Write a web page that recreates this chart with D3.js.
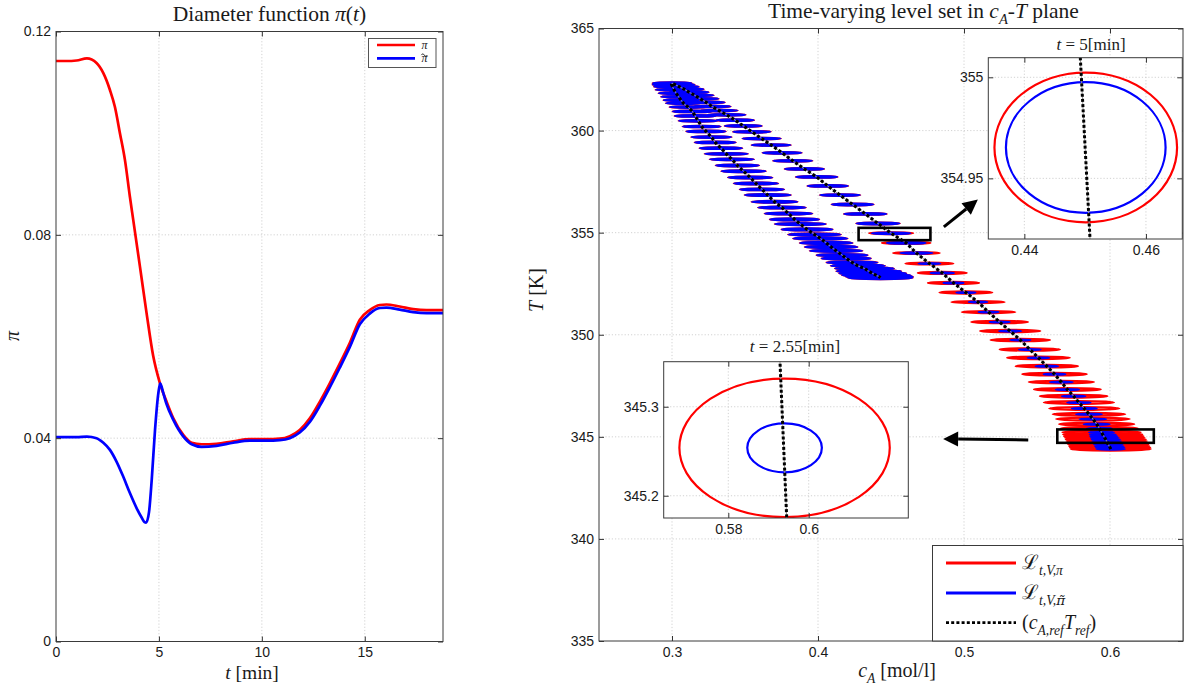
<!DOCTYPE html>
<html>
<head>
<meta charset="utf-8">
<script src="https://cdnjs.cloudflare.com/ajax/libs/d3/7.8.5/d3.min.js"></script>
<style>
  body { margin: 0; background: #fff; }
  svg { display: block; }
  .tick text { font-family: "Liberation Sans", Arial, sans-serif; font-size: 14px; fill: #1a1a1a; }
  .tex { font-family: "Liberation Serif", "Times New Roman", serif; fill: #1a1a1a; }
</style>
</head>
<body>
<svg id="chart" width="1190" height="687"></svg>
<script>
// ---- left panel: diameter functions over time ----
const timeRed = [0, 0.5, 1.0, 1.5, 1.97, 2.3, 2.62, 2.86, 3.11, 3.35, 3.59, 3.75, 4.08, 4.4, 4.72, 5.05, 5.37, 5.7, 6.19, 6.59, 7.07, 7.8, 8.61, 9.42, 10.23, 10.87, 11.36, 11.84, 12.33, 12.82, 13.3, 13.79, 14.27, 14.76, 15.24, 15.73, 16.05, 16.7, 17.35, 18.0, 18.8];
const piRed = [0.1142, 0.1142, 0.1143, 0.1147, 0.1138, 0.1118, 0.1085, 0.1052, 0.0999, 0.0947, 0.0875, 0.0830, 0.0737, 0.0646, 0.0562, 0.0508, 0.0472, 0.0439, 0.0406, 0.0391, 0.0388, 0.0389, 0.0394, 0.0398, 0.0398, 0.0399, 0.0404, 0.0416, 0.0439, 0.0472, 0.0508, 0.0547, 0.0587, 0.0633, 0.0652, 0.0662, 0.0663, 0.0659, 0.0654, 0.0652, 0.0652];
const timeBlue = [0, 1.0, 1.5, 1.97, 2.3, 2.62, 2.94, 3.27, 3.59, 3.92, 4.16, 4.3, 4.38, 4.52, 4.65, 4.81, 4.97, 5.06, 5.21, 5.37, 5.7, 6.19, 6.59, 7.07, 7.8, 8.61, 9.42, 10.23, 10.87, 11.36, 11.84, 12.33, 12.82, 13.3, 13.79, 14.27, 14.76, 15.24, 15.73, 16.05, 16.7, 17.35, 18.0, 18.8];
const piBlue = [0.0402, 0.0402, 0.0403, 0.0400, 0.0391, 0.0377, 0.0354, 0.0324, 0.0292, 0.0262, 0.0244, 0.0235, 0.0234, 0.0255, 0.0318, 0.0416, 0.0488, 0.0508, 0.0489, 0.0467, 0.0436, 0.0403, 0.0388, 0.0383, 0.0385, 0.0391, 0.0395, 0.0395, 0.0396, 0.0400, 0.0411, 0.0432, 0.0464, 0.0500, 0.0539, 0.0579, 0.0624, 0.0645, 0.0656, 0.0657, 0.0653, 0.0648, 0.0646, 0.0646];
const timeTicks = [0, 5, 10, 15];
const piTicks = [0, 0.04, 0.08, 0.12];

// ---- right panel: reference trajectory and level-set widths (c_A extent) ----
const refCA = [0.6005, 0.6001, 0.5995, 0.5988, 0.5982, 0.5977, 0.5971, 0.5964, 0.5957, 0.5950,
  0.5942, 0.5927, 0.5909, 0.5883, 0.5856, 0.5824, 0.5787, 0.5751, 0.5708, 0.5667,
  0.5620, 0.5567, 0.5510, 0.5451, 0.5386, 0.5316, 0.5244, 0.5168, 0.5096, 0.5013,
  0.4928, 0.4851, 0.4763, 0.4674, 0.4604, 0.4501, 0.4411, 0.4324, 0.4237, 0.4151,
  0.4067, 0.3991, 0.3907, 0.3827, 0.3754, 0.3679, 0.3614, 0.3547, 0.3488, 0.3433,
  0.3374, 0.3323, 0.3275, 0.3234, 0.3193, 0.3155, 0.3117, 0.3083, 0.3049, 0.3021,
  0.3001, 0.2997, 0.3004, 0.3014, 0.3028, 0.3045, 0.3062, 0.3078, 0.3110, 0.3140,
  0.3158, 0.3179, 0.3203, 0.3233, 0.3270, 0.3296, 0.3335, 0.3372, 0.3410, 0.3448,
  0.3490, 0.3536, 0.3575, 0.3616, 0.3656, 0.3702, 0.3753, 0.3798, 0.3839, 0.3879,
  0.3925, 0.3976, 0.4016, 0.4056, 0.4090, 0.4124, 0.4165, 0.4193, 0.4233, 0.4273,
  0.4318, 0.4348, 0.4375, 0.4400, 0.4420, 0.4427];
const refT = [344.40, 344.47, 344.54, 344.62, 344.71, 344.79, 344.87, 344.95, 345.03, 345.12,
  345.22, 345.41, 345.62, 345.87, 346.11, 346.39, 346.68, 346.99, 347.32, 347.68,
  348.07, 348.46, 348.87, 349.28, 349.74, 350.18, 350.62, 351.11, 351.60, 352.07,
  352.54, 353.03, 353.49, 354.00, 354.50, 354.97, 355.45, 355.92, 356.38, 356.84,
  357.29, 357.73, 358.12, 358.52, 358.91, 359.29, 359.61, 359.94, 360.23, 360.51,
  360.77, 360.98, 361.18, 361.38, 361.56, 361.73, 361.88, 362.03, 362.15, 362.25,
  362.32, 362.25, 362.15, 362.00, 361.83, 361.66, 361.49, 361.34, 361.15, 360.94,
  360.72, 360.48, 360.20, 359.96, 359.68, 359.42, 359.14, 358.86, 358.59, 358.29,
  358.01, 357.70, 357.41, 357.12, 356.84, 356.51, 356.23, 355.94, 355.65, 355.42,
  355.16, 354.91, 354.72, 354.50, 354.30, 354.11, 353.90, 353.74, 353.54, 353.38,
  353.25, 353.11, 353.00, 352.91, 352.84, 352.79];
const widthPi = [0.0549, 0.0549, 0.0549, 0.0549, 0.0549, 0.0549, 0.0548, 0.0545, 0.0545, 0.0542,
  0.0537, 0.0526, 0.0514, 0.0503, 0.0496, 0.0480, 0.0480, 0.0462, 0.0457, 0.0446,
  0.0441, 0.0427, 0.0429, 0.0412, 0.0407, 0.0412, 0.0388, 0.0366, 0.0364, 0.0361,
  0.0350, 0.0334, 0.0327, 0.0318, 0.0331, 0.0300, 0.0297, 0.0292, 0.0287, 0.0276,
  0.0278, 0.0285, 0.0269, 0.0269, 0.0269, 0.0269, 0.0262, 0.0258, 0.0253, 0.0257,
  0.0260, 0.0253, 0.0253, 0.0253, 0.0253, 0.0260, 0.0267, 0.0267, 0.0267, 0.0267,
  0.0267, 0.0260, 0.0253, 0.0253, 0.0239, 0.0239, 0.0239, 0.0239, 0.0253, 0.0271,
  0.0280, 0.0267, 0.0260, 0.0269, 0.0276, 0.0280, 0.0292, 0.0296, 0.0303, 0.0296,
  0.0303, 0.0304, 0.0303, 0.0303, 0.0315, 0.0315, 0.0326, 0.0326, 0.0337, 0.0349,
  0.0349, 0.0361, 0.0372, 0.0361, 0.0361, 0.0361, 0.0349, 0.0337, 0.0349, 0.0370,
  0.0404, 0.0445, 0.0459, 0.0472, 0.0459, 0.0445];
const widthPiTilde = [0.0192, 0.0192, 0.0192, 0.0192, 0.0192, 0.0192, 0.0190, 0.0189, 0.0185, 0.0178,
  0.0171, 0.0171, 0.0178, 0.0183, 0.0176, 0.0171, 0.0160, 0.0160, 0.0160, 0.0156,
  0.0149, 0.0153, 0.0148, 0.0149, 0.0137, 0.0151, 0.0137, 0.0137, 0.0126, 0.0130,
  0.0137, 0.0160, 0.0149, 0.0217, 0.0263, 0.0263, 0.0291, 0.0286, 0.0281, 0.0270,
  0.0272, 0.0279, 0.0263, 0.0263, 0.0263, 0.0263, 0.0256, 0.0252, 0.0247, 0.0251,
  0.0254, 0.0247, 0.0247, 0.0247, 0.0247, 0.0254, 0.0261, 0.0261, 0.0261, 0.0261,
  0.0261, 0.0254, 0.0247, 0.0247, 0.0233, 0.0233, 0.0233, 0.0233, 0.0247, 0.0265,
  0.0274, 0.0261, 0.0254, 0.0263, 0.0270, 0.0274, 0.0286, 0.0290, 0.0297, 0.0290,
  0.0297, 0.0298, 0.0297, 0.0297, 0.0309, 0.0309, 0.0320, 0.0320, 0.0331, 0.0343,
  0.0343, 0.0355, 0.0366, 0.0355, 0.0355, 0.0355, 0.0343, 0.0331, 0.0343, 0.0364,
  0.0398, 0.0439, 0.0453, 0.0466, 0.0453, 0.0439];
const caTicks = [0.3, 0.4, 0.5, 0.6];
const tempTicks = [335, 340, 345, 350, 355, 360, 365];

// zoom boxes and arrows (data units)
const zoomBoxCA = [[0.4278, 0.4770], [0.5639, 0.6300]];
const zoomBoxT = [[354.633, 355.235], [344.706, 345.362]];
const arrowFromCA = [0.4862, 0.5440], arrowFromT = [355.28, 344.85];
const arrowToCA = [0.5095, 0.4857], arrowToT = [356.62, 344.90];

// insets: level sets at two time instants
const insetTime = ["5", "2.55"];
const insetCA = [0.4501, 0.5940];
const insetT = [354.9653, 345.2538];
const insetRxPi = [0.01502, 0.02617], insetRyPi = [0.03703, 0.0778];
const insetRxPiTilde = [0.01313, 0.00928], insetRyPiTilde = [0.03233, 0.0275];
const insetRefCA = [[0.44911, 0.45089], [0.59277, 0.59458]];
const insetRefT = [[355.015, 354.915], [345.36, 345.17]];
const insetTicksCA = [[0.44, 0.46], [0.58, 0.6]];
const insetTicksT = [[354.95, 355], [345.2, 345.3]];

const RED = "#ff0000", BLUE = "#0000ff";
const levelAspect = 2.7; // T half-axis per c_A half-axis of the level-set ellipses
const svg = d3.select("#chart");
const fmt = d => String(d);

function grid(g, x, y, xTicks, yTicks) {
  const [xa, xb] = x.range(), [yb, ya] = y.range();
  g.selectAll(".gx").data(xTicks.filter(v => x(v) > xa + 1 && x(v) < xb - 1)).join("line")
    .attr("class", "gx").attr("x1", d => x(d)).attr("x2", d => x(d)).attr("y1", ya).attr("y2", yb);
  g.selectAll(".gy").data(yTicks.filter(v => y(v) > ya + 1 && y(v) < yb - 1)).join("line")
    .attr("class", "gy").attr("y1", d => y(d)).attr("y2", d => y(d)).attr("x1", xa).attr("x2", xb);
  g.selectAll("line").attr("stroke", "#cdcdcd").attr("stroke-width", 0.9).attr("stroke-dasharray", "1.2,2");
}

function boxAxes(g, x, y, xTicks, yTicks) {
  const [xa, xb] = x.range(), [yb, ya] = y.range();
  const strip = a => a.select(".domain").remove();
  g.append("g").attr("transform", `translate(0,${yb})`)
    .call(d3.axisBottom(x).tickValues(xTicks).tickSize(-5).tickSizeOuter(0).tickPadding(6).tickFormat(fmt)).call(strip);
  g.append("g").attr("transform", `translate(0,${ya})`)
    .call(d3.axisTop(x).tickValues(xTicks).tickSize(-5).tickSizeOuter(0).tickFormat("")).call(strip);
  g.append("g").attr("transform", `translate(${xa},0)`)
    .call(d3.axisLeft(y).tickValues(yTicks).tickSize(-5).tickSizeOuter(0).tickPadding(5).tickFormat(fmt)).call(strip);
  g.append("g").attr("transform", `translate(${xb},0)`)
    .call(d3.axisRight(y).tickValues(yTicks).tickSize(-5).tickSizeOuter(0).tickFormat("")).call(strip);
  g.selectAll(".tick line").attr("stroke", "#333");
  g.append("rect").attr("x", xa).attr("y", ya).attr("width", xb - xa).attr("height", yb - ya)
    .attr("fill", "none").attr("stroke", "#3a3a3a").attr("stroke-width", 1);
}

// text with italic parts and subscripts
function rich(sel, base, parts) {
  let low = false;
  parts.forEach(p => {
    const s = sel.append("tspan").text(p.t);
    if (p.it) s.attr("font-style", "italic");
    if (p.dv) s.attr("font-family", "DejaVu Serif");
    if (p.sub) s.attr("font-size", base * 0.68);
    if (p.sub && !low) s.attr("dy", base * 0.3);
    if (!p.sub && low) s.attr("dy", -base * 0.3);
    low = !!p.sub;
  });
  return sel;
}
function tex(x, y, size, parts, anchor = "start", rotate = false) {
  const t = svg.append("text").attr("class", "tex").attr("font-size", size).attr("text-anchor", anchor);
  if (rotate) t.attr("transform", `translate(${x},${y}) rotate(-90)`);
  else t.attr("x", x).attr("y", y);
  return rich(t, size, parts);
}

// dotted reference line with its faint gray core
function refLine(g, pts, width) {
  const line = d3.line().x(d => d[0]).y(d => d[1]);
  g.append("path").attr("d", line(pts)).attr("fill", "none").attr("stroke", "#9a9a9a").attr("stroke-width", 1);
  g.append("path").attr("d", line(pts)).attr("fill", "none").attr("stroke", "#000")
    .attr("stroke-width", width).attr("stroke-dasharray", "3,2.2");
}

// ================= LEFT PANEL =================
const xT = d3.scaleLinear().domain([0, 18.8]).range([56, 443]);
const yP = d3.scaleLinear().domain([0, 0.12]).range([641.5, 31.5]);
const gl = svg.append("g");
grid(gl.append("g"), xT, yP, timeTicks, piTicks);
const piLine = d3.line().x(d => xT(d[0])).y(d => yP(d[1])).curve(d3.curveMonotoneX);
gl.append("path").attr("d", piLine(d3.zip(timeRed, piRed))).attr("fill", "none").attr("stroke", RED).attr("stroke-width", 2.7);
gl.append("path").attr("d", piLine(d3.zip(timeBlue, piBlue))).attr("fill", "none").attr("stroke", BLUE).attr("stroke-width", 2.7);
boxAxes(gl.append("g"), xT, yP, timeTicks, piTicks);

// left legend
const lg = gl.append("g");
lg.append("rect").attr("x", 368.5).attr("y", 38.5).attr("width", 67.5).attr("height", 29)
  .attr("fill", "#fff").attr("stroke", "#555").attr("stroke-width", 1);
[RED, BLUE].forEach((c, i) => {
  const yy = 45 + i * 13.3;
  lg.append("line").attr("x1", 377).attr("x2", 415).attr("y1", yy).attr("y2", yy).attr("stroke", c).attr("stroke-width", 2.7);
  lg.append("text").attr("class", "tex").attr("x", 424.5).attr("y", yy + 4).attr("font-size", 12)
    .attr("text-anchor", "middle").attr("font-style", "italic").text("\u03c0");
  if (i === 1) {
    // tilde accent drawn as a small stroke
    lg.append("path").attr("d", `M421.3,${yy - 3.2}c1,-1.6 2,-1.6 3,0s2,1.6 3,0`)
      .attr("fill", "none").attr("stroke", "#1a1a1a").attr("stroke-width", 0.9);
  }
});

tex(172.7, 20.5, 21.5, [{t: "Diameter function "}, {t: "\u03c0", it: true}, {t: "("}, {t: "t", it: true}, {t: ")"}]);
tex(252, 679, 19.5, [{t: "t", it: true}, {t: " [min]"}], "middle");
tex(19, 336, 20, [{t: "\u03c0", it: true}], "middle", true);

// ================= RIGHT PANEL =================
const xC = d3.scaleLinear().domain([0.25, 0.65]).range([599, 1183]);
const yK = d3.scaleLinear().domain([335, 365]).range([641, 28.5]);
const gr = svg.append("g");
grid(gr.append("g"), xC, yK, caTicks, tempTicks);

const rows = refCA.map((c, i) => ({c, T: refT[i], wp: widthPi[i], wq: widthPiTilde[i]}));
function ellipses(g, key, color) {
  g.selectAll(null).data(rows).join("ellipse")
    .attr("cx", d => xC(d.c)).attr("cy", d => yK(d.T))
    .attr("rx", d => xC(d.c + d[key] / 2) - xC(d.c))
    .attr("ry", d => yK(d.T) - yK(d.T + d[key] / 2 * levelAspect))
    .attr("fill", "none").attr("stroke", color).attr("stroke-width", 2.3);
}
ellipses(gr.append("g"), "wp", RED);
ellipses(gr.append("g"), "wq", BLUE);
refLine(gr, rows.map(d => [xC(d.c), yK(d.T)]), 3.1);

// zoom boxes
zoomBoxCA.forEach((ca, i) => {
  const tt = zoomBoxT[i];
  gr.append("rect").attr("x", xC(ca[0])).attr("y", yK(tt[1]))
    .attr("width", xC(ca[1]) - xC(ca[0])).attr("height", yK(tt[0]) - yK(tt[1]))
    .attr("fill", "none").attr("stroke", "#000").attr("stroke-width", 2.6);
});
// arrows
arrowFromCA.forEach((_, i) => {
  const p0 = [xC(arrowFromCA[i]), yK(arrowFromT[i])], p1 = [xC(arrowToCA[i]), yK(arrowToT[i])];
  const L = Math.hypot(p1[0] - p0[0], p1[1] - p0[1]);
  const u = [(p1[0] - p0[0]) / L, (p1[1] - p0[1]) / L], n = [-u[1], u[0]];
  const b = [p1[0] - u[0] * 15, p1[1] - u[1] * 15];
  gr.append("line").attr("x1", p0[0]).attr("y1", p0[1]).attr("x2", b[0]).attr("y2", b[1])
    .attr("stroke", "#000").attr("stroke-width", 3);
  gr.append("path").attr("d", `M${p1}L${b[0] + n[0] * 7.5},${b[1] + n[1] * 7.5}L${b[0] - n[0] * 7.5},${b[1] - n[1] * 7.5}Z`)
    .attr("fill", "#000");
});
boxAxes(gr.append("g"), xC, yK, caTicks, tempTicks);

// insets
const insetLayout = [
  {x: [988.3, 1182.3], y: [239, 57.7], ca: [0.43407, 0.46598], T: [354.92, 355.0097], title: [1091, 49.5]},
  {x: [663.7, 908.3], y: [518, 361.7], ca: [0.56393, 0.62478], T: [345.175, 345.3506], title: [795, 351.5]}
];
insetLayout.forEach((lay, k) => {
  const x = d3.scaleLinear().domain(lay.ca).range(lay.x);
  const y = d3.scaleLinear().domain(lay.T).range(lay.y);
  const g = svg.append("g");
  g.append("rect").attr("x", lay.x[0]).attr("y", lay.y[1]).attr("width", lay.x[1] - lay.x[0])
    .attr("height", lay.y[0] - lay.y[1]).attr("fill", "#fff");
  grid(g.append("g"), x, y, insetTicksCA[k], insetTicksT[k]);
  const clipId = "clip" + k;
  g.append("clipPath").attr("id", clipId).append("rect").attr("x", lay.x[0]).attr("y", lay.y[1])
    .attr("width", lay.x[1] - lay.x[0]).attr("height", lay.y[0] - lay.y[1]);
  const body = g.append("g").attr("clip-path", `url(#${clipId})`);
  [[insetRxPi, insetRyPi, RED], [insetRxPiTilde, insetRyPiTilde, BLUE]].forEach(([rx, ry, col]) => {
    body.append("ellipse").attr("cx", x(insetCA[k])).attr("cy", y(insetT[k]))
      .attr("rx", x(insetCA[k] + rx[k]) - x(insetCA[k])).attr("ry", y(insetT[k]) - y(insetT[k] + ry[k]))
      .attr("fill", "none").attr("stroke", col).attr("stroke-width", 2.2);
  });
  refLine(body, insetRefCA[k].map((c, j) => [x(c), y(insetRefT[k][j])]), 3);
  boxAxes(g.append("g"), x, y, insetTicksCA[k], insetTicksT[k]);
  tex(lay.title[0], lay.title[1], 17, [{t: "t", it: true}, {t: " = " + insetTime[k] + "[min]"}], "middle");
});

// right legend
const rg = svg.append("g");
rg.append("rect").attr("x", 932.5).attr("y", 545.5).attr("width", 250.5).attr("height", 95.5)
  .attr("fill", "#fff").attr("stroke", "#3a3a3a").attr("stroke-width", 1);
const legendRows = [
  {y: 563, color: RED, parts: [{t: "\u2112"}, {t: "t,V,\u03c0", it: true, sub: true}]},
  {y: 593, color: BLUE, parts: [{t: "\u2112"}, {t: "t,V,", it: true, sub: true}, {t: "\u03c0\u0303", it: true, sub: true, dv: true}]},
  {y: 622.7, color: "#000", dotted: true, parts: [{t: "("}, {t: "c", it: true}, {t: "A,ref", it: true, sub: true},
    {t: "T", it: true}, {t: "ref", it: true, sub: true}, {t: ")"}]}
];
legendRows.forEach(r => {
  const ln = rg.append("line").attr("x1", 946).attr("x2", 1016).attr("y1", r.y).attr("y2", r.y)
    .attr("stroke", r.color).attr("stroke-width", 2.8);
  if (r.dotted) ln.attr("stroke-dasharray", "3,2.2");
  const t = rg.append("text").attr("class", "tex").attr("x", 1022).attr("y", r.y + 6).attr("font-size", 20);
  rich(t, 20, r.parts);
});

tex(768, 18, 21.5, [{t: "Time-varying level set in "}, {t: "c", it: true}, {t: "A", it: true, sub: true},
  {t: "-"}, {t: "T", it: true}, {t: " plane"}]);
tex(897, 677, 20, [{t: "c", it: true}, {t: "A", it: true, sub: true}, {t: " [mol/l]"}], "middle");
tex(543, 290, 20, [{t: "T", it: true}, {t: " [K]"}], "middle", true);
</script>
</body>
</html>
